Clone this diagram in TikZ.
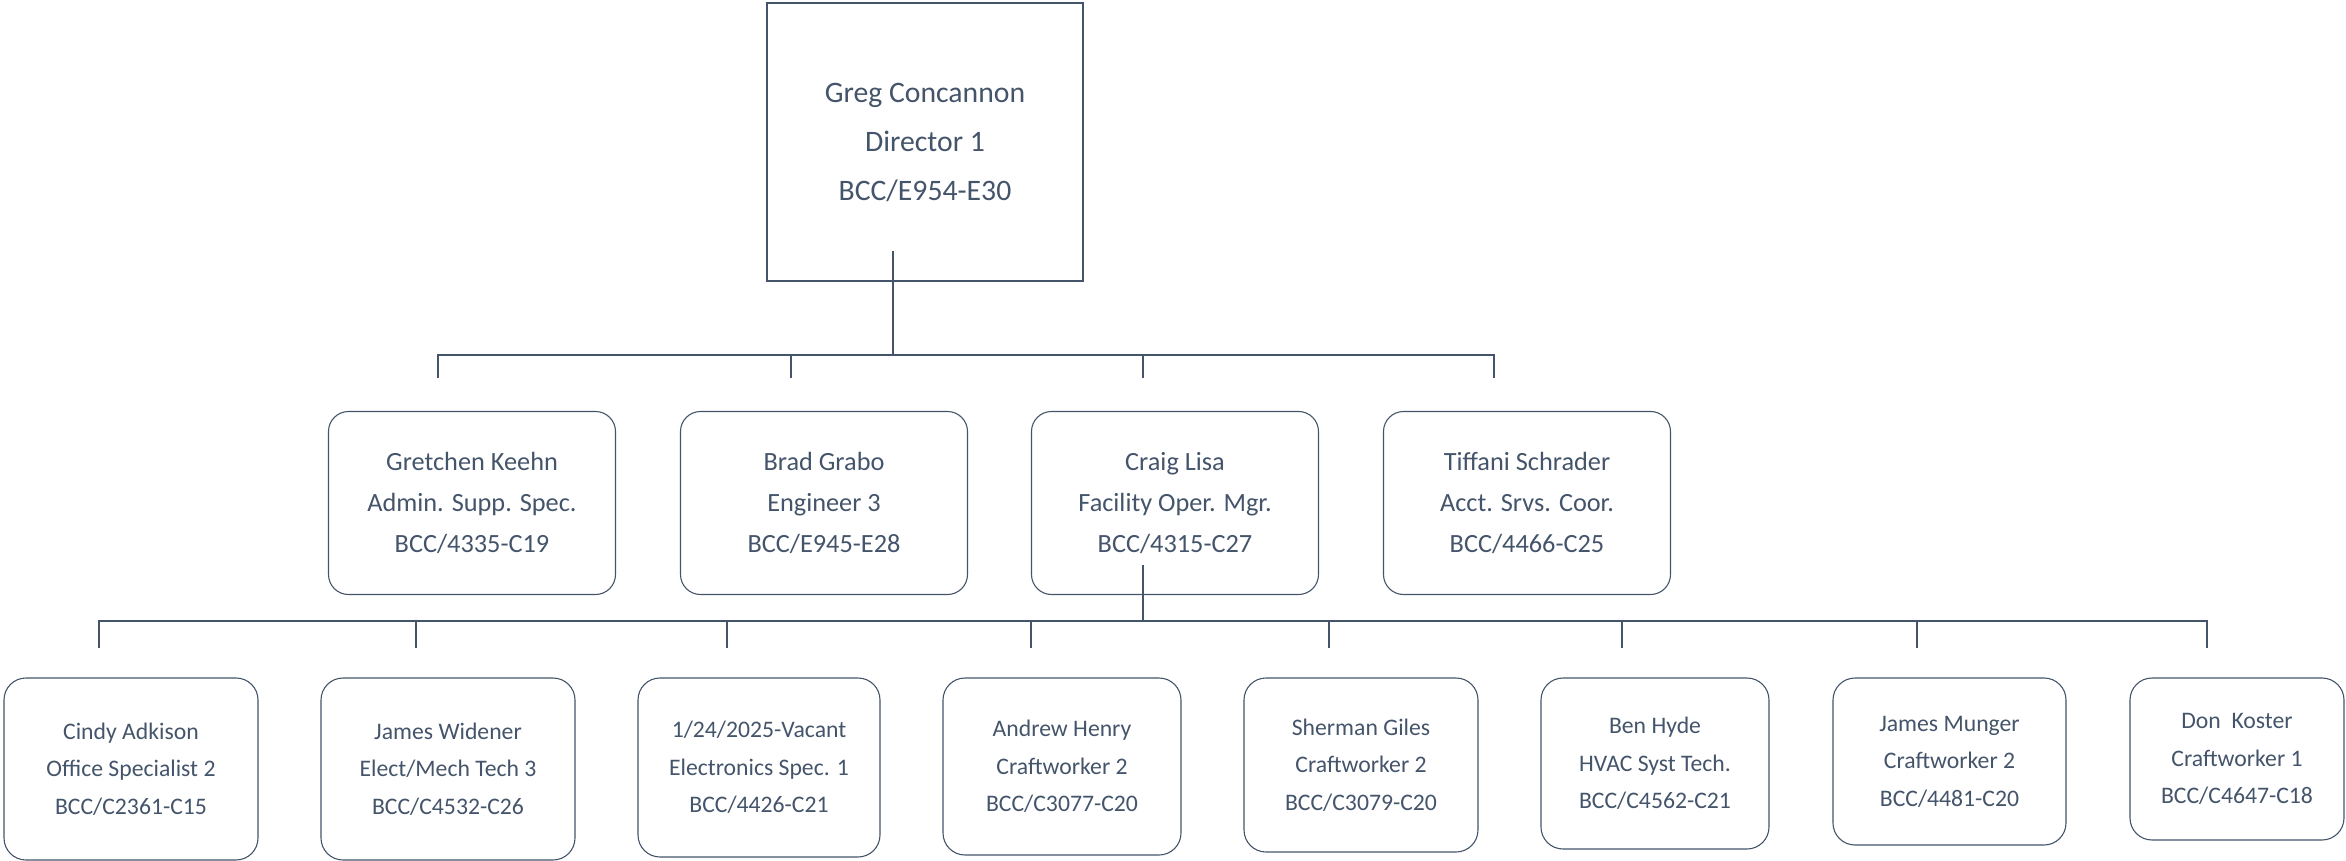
\documentclass[tikz,border=0pt]{standalone}
\usepackage{fontspec}
\setmainfont{Carlito}
\definecolor{ink}{HTML}{44546A}
\begin{document}
\begin{tikzpicture}[x=1pt,y=-1pt,
  box/.style={draw=ink, line width=1.1pt, inner sep=0pt, align=center, text=ink},
  topbox/.style={box, minimum width=316pt, minimum height=278pt, font=\fontsize{29.7}{49}\selectfont},
  midbox/.style={box, rounded corners=20pt, minimum width=287pt, minimum height=183pt, font=\fontsize{26.3}{41}\selectfont},
  lowbox/.style={box, rounded corners=22pt, font=\fontsize{23.7}{37.5}\selectfont},
  conn/.style={draw=ink, line width=1.5pt},
  stem/.style={draw=ink, line width=2.6pt}]
\useasboundingbox (0,0) rectangle (2346,861);
% top
\node[topbox] (greg) at (925,142) {Greg Concannon\\Director 1\\BCC/E954-E30};
% level 2
\node[midbox] (gretchen) at (472,503) {Gretchen Keehn\\Admin. Supp. Spec.\\BCC/4335-C19};
\node[midbox] (brad) at (824,503) {Brad Grabo\\Engineer 3\\BCC/E945-E28};
\node[midbox] (craig) at (1175,503) {Craig Lisa\\Facility Oper. Mgr.\\BCC/4315-C27};
\node[midbox] (tiffani) at (1527,503) {Tiffani Schrader\\Acct. Srvs. Coor.\\BCC/4466-C25};
% level 3
\node[lowbox, minimum width=254pt, minimum height=182pt] (cindy) at (131,769) {Cindy Adkison\\Office Specialist 2\\BCC/C2361-C15};
\node[lowbox, minimum width=254pt, minimum height=182pt] (widener) at (448,769) {James Widener\\Elect/Mech Tech 3\\BCC/C4532-C26};
\node[lowbox, minimum width=242pt, minimum height=179pt] (vacant) at (759,767.5) {1/24/2025-Vacant\\Electronics Spec. 1\\BCC/4426-C21};
\node[lowbox, minimum width=238pt, minimum height=177pt] (andrew) at (1062,766.5) {Andrew Henry\\Craftworker 2\\BCC/C3077-C20};
\node[lowbox, minimum width=234pt, minimum height=174pt] (sherman) at (1361,765) {Sherman Giles\\Craftworker 2\\BCC/C3079-C20};
\node[lowbox, minimum width=228pt, minimum height=171pt] (ben) at (1655,763.5) {Ben Hyde\\HVAC Syst Tech.\\BCC/C4562-C21};
\node[lowbox, minimum width=233pt, minimum height=167pt] (munger) at (1949.5,761.5) {James Munger\\Craftworker 2\\BCC/4481-C20};
\node[lowbox, minimum width=214pt, minimum height=162pt] (koster) at (2237,759) {Don\ \ Koster\\Craftworker 1\\BCC/C4647-C18};
% connectors level 1 -> 2
\coordinate (gstem) at (893,251);
\coordinate (busA) at (893,355);
\coordinate (d1) at (438,378);
\coordinate (d2) at (791,378);
\coordinate (d3) at (1143,378);
\coordinate (d4) at (1494,378);
\draw[conn] (d1) |- (busA) -| (d4);
\draw[conn] (d2) -- (d2 |- busA);
\draw[conn] (d3) -- (d3 |- busA);
\draw[stem] (gstem) -- (busA);
% connectors level 2 -> 3
\coordinate (cstem) at (1143,565);
\coordinate (busB) at (1143,621);
\coordinate (e1) at (99,648);
\coordinate (e2) at (416,648);
\coordinate (e3) at (727,648);
\coordinate (e4) at (1031,648);
\coordinate (e5) at (1329,648);
\coordinate (e6) at (1622,648);
\coordinate (e7) at (1917,648);
\coordinate (e8) at (2207,648);
\draw[conn] (e1) |- (busB) -| (e8);
\foreach \e in {e2,e3,e4,e5,e6,e7} \draw[conn] (\e) -- (\e |- busB);
\draw[stem] (cstem) -- (busB);
\end{tikzpicture}
\end{document}
